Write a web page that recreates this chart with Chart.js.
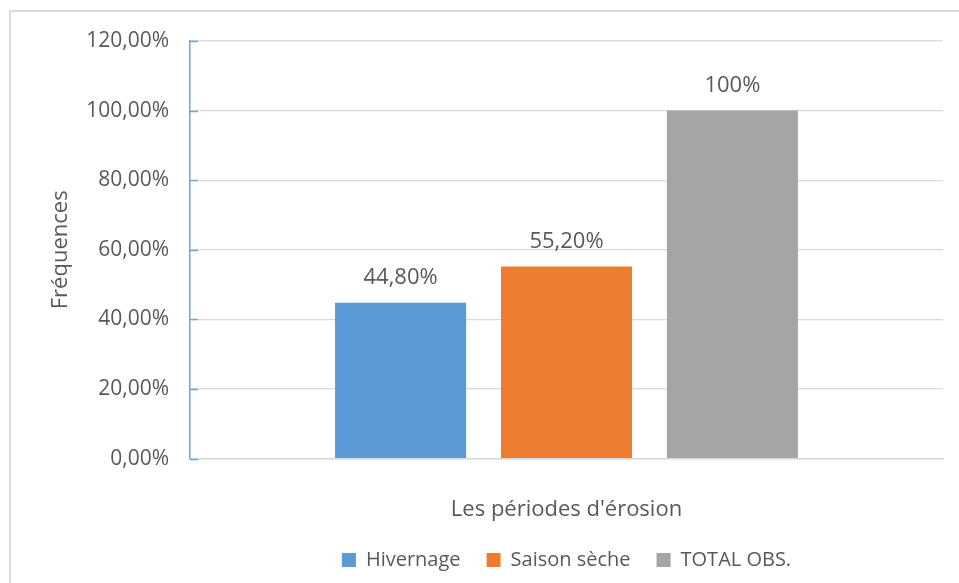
<!DOCTYPE html>
<html lang="fr">
<head>
<meta charset="utf-8">
<title>Les périodes d'érosion</title>
<script src="https://cdn.jsdelivr.net/npm/chart.js@4.4.1/dist/chart.umd.min.js"></script>
<style>
  html, body { margin: 0; padding: 0; background: #ffffff; }
  body { width: 959px; height: 583px; position: relative; overflow: hidden; }
  .frame {
    position: absolute; left: 9px; top: 10px; width: 1100px; height: 800px;
    border-left: 2px solid #d9d9d9; border-top: 2px solid #d9d9d9;
  }
  #wrap { position: absolute; left: 0; top: 0; width: 959px; height: 583px; }
</style>
</head>
<body>
<div class="frame"></div>
<div id="wrap"><canvas id="chart"></canvas></div>
<script>
// Fréquences des périodes d'érosion (en %)
const categories = [''];
const seriesNames = ['Hivernage', 'Saison sèche', 'TOTAL OBS.'];
const hivernage = [44.8];
const saisonSeche = [55.2];
const totalObs = [100];
const yTicks = [0, 20, 40, 60, 80, 100, 120];
const seriesColors = ['#5b9bd5', '#ed7d31', '#a5a5a5'];

const textColor = '#595959';
const fontFamily = '"Open Sans", "DejaVu Sans", sans-serif';

function frPercent(v, decimals) {
  return v.toFixed(decimals).replace('.', ',') + '%';
}
// "100%" for whole values, "44,80%" otherwise
function valueLabel(v) {
  return Number.isInteger(v) ? v + '%' : frPercent(v, 2);
}

// value labels above each bar
const barValueLabels = {
  id: 'barValueLabels',
  afterDatasetsDraw(chart) {
    const ctx = chart.ctx;
    ctx.save();
    ctx.font = '22px ' + fontFamily;
    ctx.fillStyle = textColor;
    ctx.textAlign = 'center';
    ctx.textBaseline = 'middle';
    chart.data.datasets.forEach((ds, i) => {
      const meta = chart.getDatasetMeta(i);
      meta.data.forEach((bar, j) => {
        ctx.fillText(valueLabel(ds.data[j]), bar.x, bar.y - 25);
      });
    });
    ctx.restore();
  }
};

// short inward tick marks on the value axis
const innerTicks = {
  id: 'innerTicks',
  afterDraw(chart) {
    const y = chart.scales.y;
    const left = chart.chartArea.left;
    const ctx = chart.ctx;
    ctx.save();
    ctx.strokeStyle = '#6fa6dc';
    ctx.lineWidth = 1.5;
    y.ticks.forEach(t => {
      const py = Math.round(y.getPixelForValue(t.value)) + 0.5;
      ctx.beginPath();
      ctx.moveTo(left, py);
      ctx.lineTo(left + 8, py);
      ctx.stroke();
    });
    ctx.restore();
  }
};

const datasets = [hivernage, saisonSeche, totalObs].map((data, i) => ({
  label: seriesNames[i],
  data: data,
  backgroundColor: seriesColors[i],
  borderWidth: 0,
  categoryPercentage: 0.661,
  barPercentage: 0.79
}));

new Chart(document.getElementById('chart'), {
  type: 'bar',
  data: { labels: categories, datasets: datasets },
  plugins: [barValueLabels, innerTicks],
  options: {
    responsive: true,
    maintainAspectRatio: false,
    animation: false,
    layout: { padding: { left: 10, right: 16, top: 41, bottom: 3 } },
    plugins: {
      tooltip: { enabled: false },
      legend: {
        position: 'bottom',
        fullSize: false,
        labels: {
          color: textColor,
          font: { family: fontFamily, size: 20 },
          boxWidth: 14,
          boxHeight: 14,
          padding: 26
        }
      }
    },
    scales: {
      x: {
        grid: { display: false },
        border: { display: true, color: '#d9d9d9', width: 1.5 },
        ticks: { display: false },
        title: {
          display: true,
          text: "Les périodes d'érosion",
          color: textColor,
          font: { family: fontFamily, size: 22 },
          padding: { top: 30, bottom: 1 }
        }
      },
      y: {
        min: 0,
        max: 120,
        afterBuildTicks(scale) {
          scale.ticks = yTicks.map(v => ({ value: v }));
        },
        afterFit(scale) { scale.width = 180; },
        grid: { color: '#d9d9d9', lineWidth: 1.2, drawTicks: false },
        border: { display: true, color: '#6fa6dc', width: 1.5 },
        ticks: {
          color: textColor,
          font: { family: fontFamily, size: 21 },
          padding: 21,
          callback: v => frPercent(v, 2)
        },
        title: {
          display: true,
          text: 'Fréquences',
          color: textColor,
          font: { family: fontFamily, size: 22 },
          padding: { top: 38, bottom: 0 }
        }
      }
    }
  }
});
</script>
</body>
</html>
